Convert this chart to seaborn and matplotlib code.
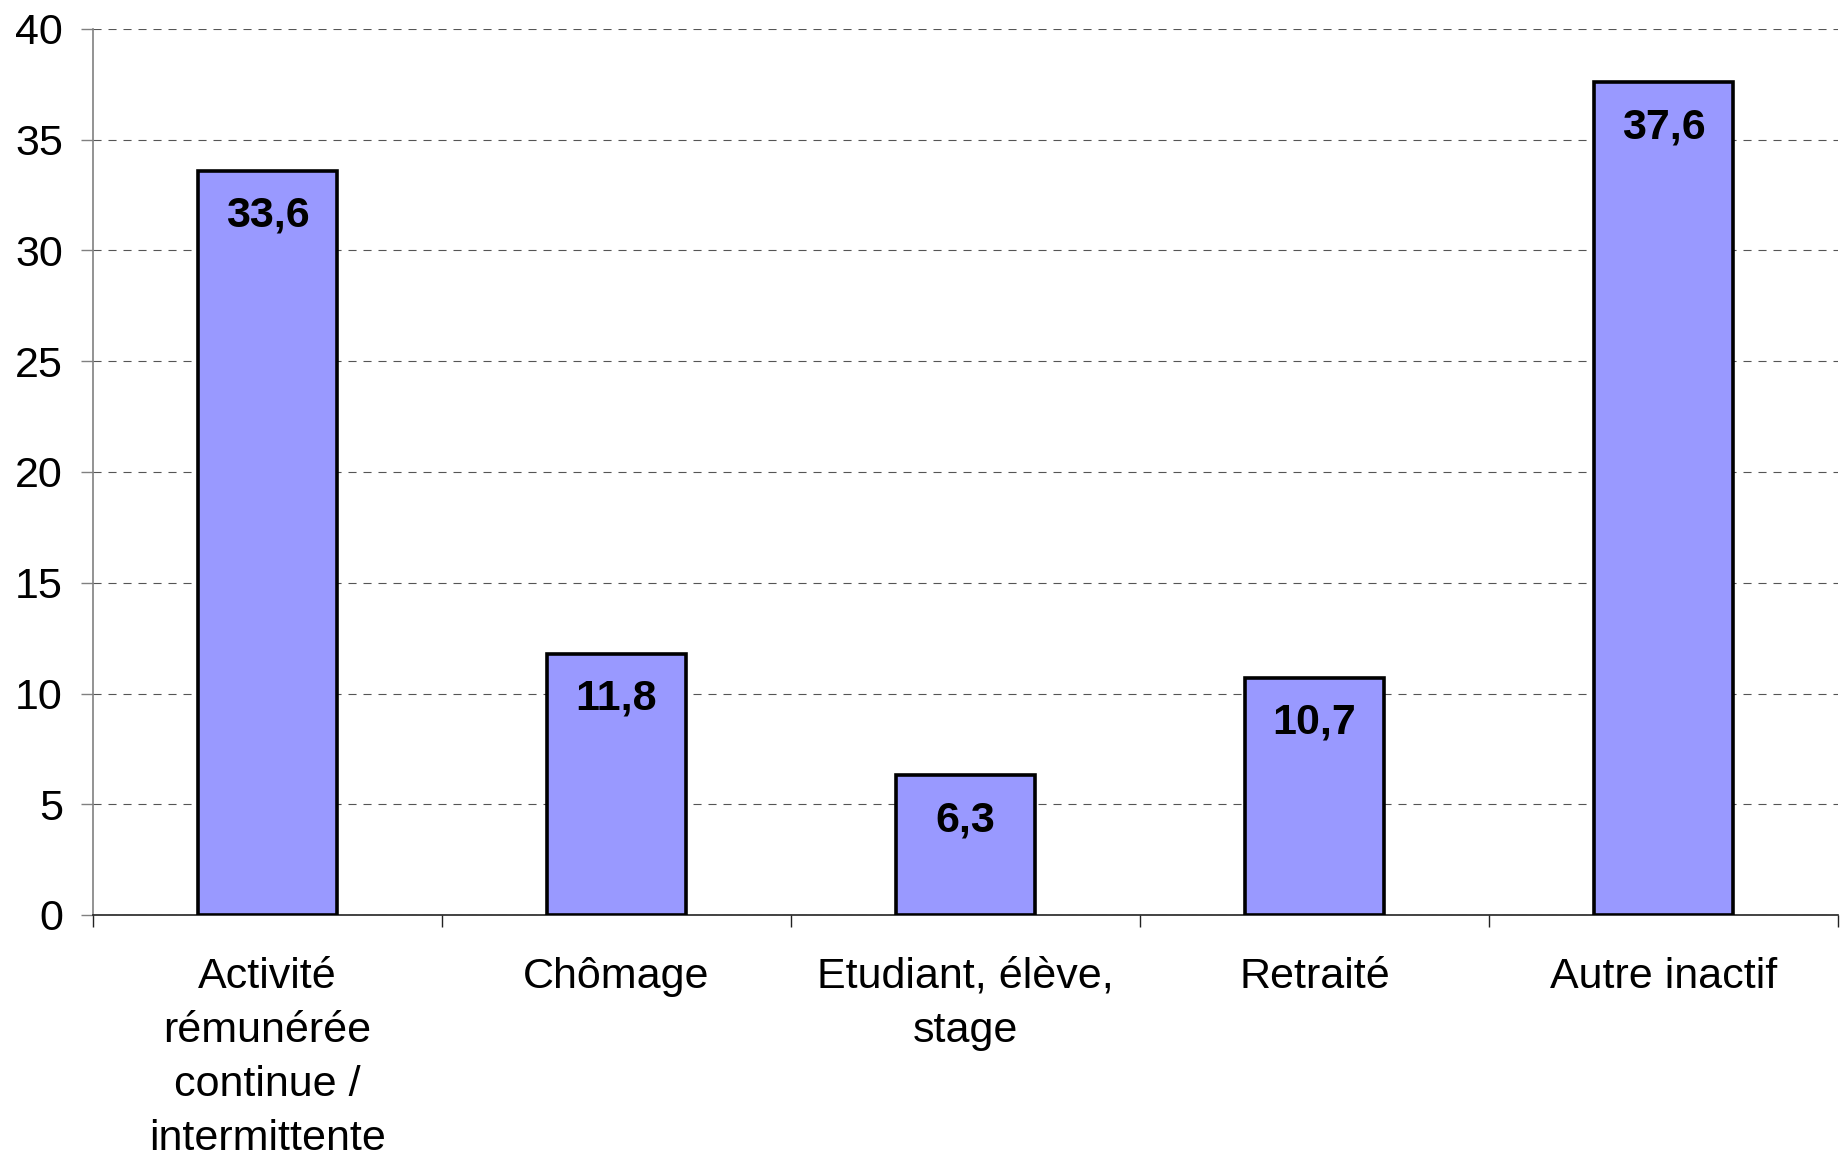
import matplotlib
matplotlib.use("Agg")
import matplotlib.pyplot as plt
import seaborn as sns
import pandas as pd
import numpy as np
from matplotlib.ticker import FixedLocator

categories = [
    "Activité\nrémunérée\ncontinue /\nintermittente",
    "Chômage",
    "Etudiant, élève,\nstage",
    "Retraité",
    "Autre inactif",
]
values = [33.6, 11.8, 6.3, 10.7, 37.6]
value_labels = ["33,6", "11,8", "6,3", "10,7", "37,6"]
y_ticks = [0, 5, 10, 15, 20, 25, 30, 35, 40]

sns.set_theme(style="white")
plt.rcParams["font.family"] = ["Liberation Sans", "DejaVu Sans"]
plt.rcParams["lines.scale_dashes"] = False

W, H = 1847, 1155
fig = plt.figure(figsize=(W / 100, H / 100), dpi=100)
ax = fig.add_axes([93 / W, (H - 915) / H, 1745 / W, 886 / H])

df = pd.DataFrame({"cat": categories, "val": values})
sns.barplot(data=df, x="cat", y="val", order=categories, color="#9999FF",
            saturation=1, width=0.4, edgecolor="black", linewidth=2.6, ax=ax, zorder=3)

ax.set_xlim(-0.5, len(categories) - 0.5)
ax.set_ylim(0, 40)
ax.set_yticks(y_ticks)
ax.set_yticklabels([str(t) for t in y_ticks])
ax.set_xlabel("")
ax.set_ylabel("")

ax.yaxis.grid(True, color="#555555", linestyle=(0, (5.8, 5.0)), linewidth=0.8, zorder=0)
ax.xaxis.grid(False)
ax.set_axisbelow(True)

for s in ["top", "right"]:
    ax.spines[s].set_visible(False)
ax.spines["left"].set_color("#808080")
ax.spines["left"].set_linewidth(1.2)
ax.spines["bottom"].set_color("#222222")
ax.spines["bottom"].set_linewidth(1.2)

ax.tick_params(axis="y", which="major", left=True, length=8.6, width=1.0, color="#808080",
               labelsize=31, pad=13, labelcolor="black")
ax.tick_params(axis="x", which="major", bottom=False, length=0, labelsize=31, pad=30,
               labelcolor="black")
ax.xaxis.set_minor_locator(FixedLocator(np.arange(-0.5, len(categories), 1.0)))
ax.tick_params(axis="x", which="minor", bottom=True, length=8.6, width=1.0, color="#222222")
for lab in ax.get_xticklabels():
    lab.set_linespacing(1.45)

for i, (v, txt) in enumerate(zip(values, value_labels)):
    ax.annotate(txt, xy=(i, v), xytext=(0, -18), textcoords="offset points",
                ha="center", va="top", fontsize=31, fontweight="bold", color="black", zorder=5)

fig.savefig("out.png", dpi=100)
